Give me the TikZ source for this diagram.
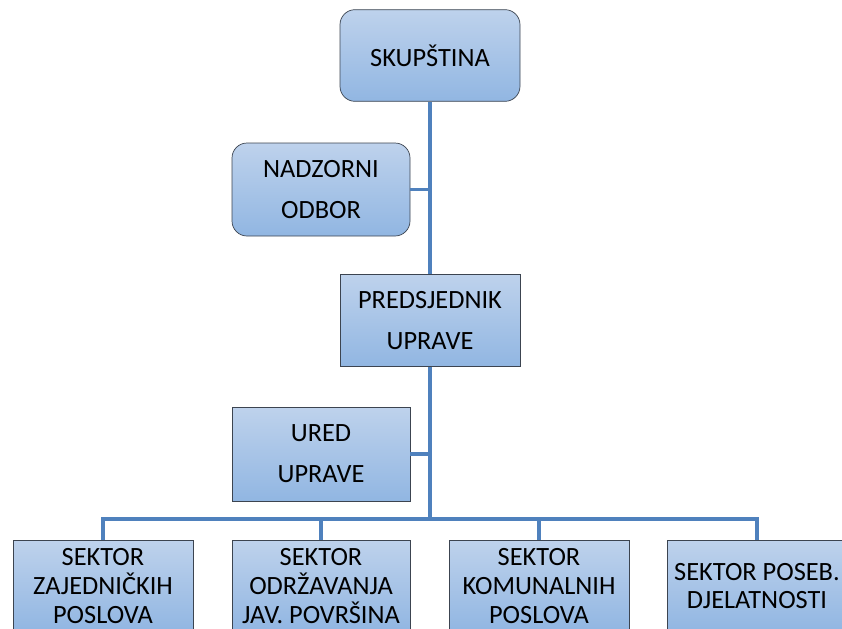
\documentclass[tikz,border=0pt]{standalone}
\usepackage{fontspec}
\setmainfont{Carlito}
\usepackage{tikz}
\usetikzlibrary{arrows,shapes,positioning}
\usepackage{xcolor}
\definecolor{orgline}{RGB}{79,129,189}
\definecolor{orgedge}{RGB}{60,68,80}
\definecolor{orgtop}{RGB}{190,210,236}
\definecolor{orgbottom}{RGB}{145,182,226}
\tikzstyle{link} = [line width=2.6pt,color=orgline]
\tikzstyle{orgbox} = [rectangle, minimum width=5.4cm, minimum height=2.75cm, text centered, align=center, draw=orgedge, top color=orgtop, bottom color=orgbottom, line width=0.6pt, font=\fontsize{22.5}{35}\selectfont]
\tikzstyle{sector} = [orgbox, font=\fontsize{22.5}{24.5}\selectfont]

\begin{document}
\begin{tikzpicture}[node distance=6.54cm]
\useasboundingbox (0,0) rectangle (25.26,-18.84);

% Top: assembly
\node (skup) [orgbox, rounded corners=0.45cm] at (12.9,-1.665) {SKUPŠTINA};

% Supervisory board
\node (nadzor) [orgbox, rounded corners=0.45cm, minimum width=5.34cm, minimum height=2.79cm] at (9.63,-5.685) {NADZORNI\\ODBOR};

% Board president
\node (pred) [orgbox] at (12.9,-9.615) {PREDSJEDNIK\\UPRAVE};

% Board office
\node (ured) [orgbox, minimum width=5.34cm, minimum height=2.82cm] at (9.63,-13.62) {URED\\UPRAVE};

% Sectors
\coordinate (bus) at (12.9,-15.57);
\node (zaj) [sector] at (3.09,-17.58) {SEKTOR\\ZAJEDNIČKIH\\POSLOVA};
\node (odr) [sector, right of=zaj, minimum width=5.34cm] {SEKTOR\\ODRŽAVANJA\\JAV. POVRŠINA};
\node (kom) [sector, right of=odr] {SEKTOR\\KOMUNALNIH\\POSLOVA};
\node (pos) [sector, right of=kom] {SEKTOR POSEB.\\DJELATNOSTI};

% Connectors
\draw[link] (skup.south) -- (pred.north);
\draw[link] (nadzor.east) -- (nadzor.east -| skup.south);
\draw[link] (pred.south) -- (bus);
\draw[link] (ured.east) -- (ured.east -| bus);
\draw[link] (zaj.north) |- (bus) -| (pos.north);
\draw[link] (odr.north) -- (odr.north |- bus);
\draw[link] (kom.north) -- (kom.north |- bus);

\end{tikzpicture}
\end{document}
